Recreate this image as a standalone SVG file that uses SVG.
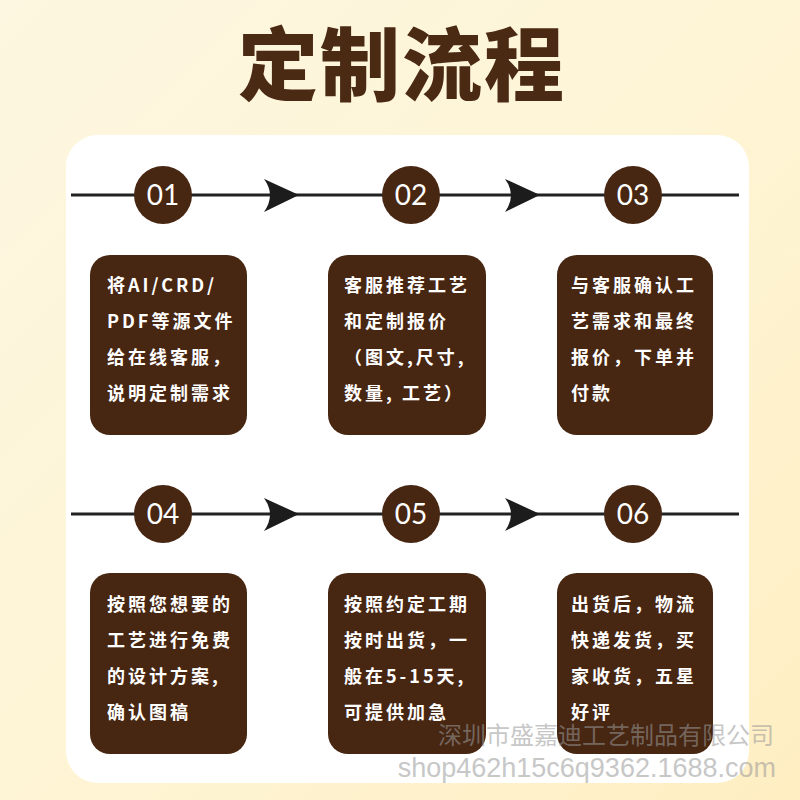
<svg xmlns="http://www.w3.org/2000/svg" width="800" height="800" viewBox="0 0 800 800">
<defs>
<linearGradient id="bg" x1="0" y1="0" x2="1" y2="1">
<stop offset="0" stop-color="#fdf6e0"/>
<stop offset="0.5" stop-color="#fef5d6"/>
<stop offset="1" stop-color="#ffeec2"/>
</linearGradient>
<style>
.box{fill:#472612;}
.num{fill:#472612;}
.numt{font-family:"Lato","Open Sans",sans-serif;font-size:28px;fill:#ffffff;text-anchor:middle;}
.t{font-family:"Noto Sans CJK SC",sans-serif;font-size:18px;font-weight:700;fill:#ffffff;letter-spacing:3px;}
.line{stroke:#222222;stroke-width:3;fill:none;}
.arr{fill:#1c1c1c;}
.title{font-family:"Noto Sans CJK SC",serif;font-size:80px;font-weight:900;fill:#4b2a14;text-anchor:middle;letter-spacing:2px;}
.wm{font-family:"Liberation Sans","Noto Sans CJK SC",sans-serif;fill:#9a9a9a;opacity:0.55;text-anchor:end;}
</style>
</defs>
<rect width="800" height="800" fill="url(#bg)"/>
<text class="title" x="402" y="94">定制流程</text>
<rect x="66" y="135" width="683" height="648" rx="32" fill="#ffffff"/>

<g id="connectors">
<line class="line" x1="71" y1="195" x2="739" y2="195"/>
<line class="line" x1="71" y1="514" x2="739" y2="514"/>
<path class="arr" d="M264,179 L299,195 L264,212 Q276,195 264,179 Z"/>
<path class="arr" d="M505,179 L540,195 L505,212 Q517,195 505,179 Z"/>
<path class="arr" d="M264,498 L299,514 L264,531 Q276,514 264,498 Z"/>
<path class="arr" d="M505,498 L540,514 L505,531 Q517,514 505,498 Z"/>
</g>

<g id="step01">
<circle class="num" cx="163" cy="195" r="29"/>
<text class="numt" x="163" y="205">01</text>
<rect class="box" x="90" y="255" width="157" height="180" rx="20"/>
<text class="t" x="107" y="292">将AI/CRD/</text>
<text class="t" x="107" y="328">PDF等源文件</text>
<text class="t" x="107" y="364">给在线客服，</text>
<text class="t" x="107" y="400">说明定制需求</text>
</g>
<g id="step02">
<circle class="num" cx="411" cy="195" r="29"/>
<text class="numt" x="411" y="205">02</text>
<rect class="box" x="328" y="255" width="158" height="180" rx="20"/>
<text class="t" x="344" y="292">客服推荐工艺</text>
<text class="t" x="344" y="328">和定制报价</text>
<text class="t" x="344" y="364">（图文,尺寸,</text>
<text class="t" x="344" y="400">数量, 工艺）</text>
</g>
<g id="step03">
<circle class="num" cx="633" cy="195" r="29"/>
<text class="numt" x="633" y="205">03</text>
<rect class="box" x="557" y="255" width="156" height="180" rx="20"/>
<text class="t" x="571" y="292">与客服确认工</text>
<text class="t" x="571" y="328">艺需求和最终</text>
<text class="t" x="571" y="364">报价，下单并</text>
<text class="t" x="571" y="400">付款</text>
</g>
<g id="step04">
<circle class="num" cx="163" cy="514" r="29"/>
<text class="numt" x="163" y="524">04</text>
<rect class="box" x="90" y="573" width="157" height="181" rx="20"/>
<text class="t" x="107" y="611">按照您想要的</text>
<text class="t" x="107" y="647">工艺进行免费</text>
<text class="t" x="107" y="683">的设计方案,</text>
<text class="t" x="107" y="719">确认图稿</text>
</g>
<g id="step05">
<circle class="num" cx="411" cy="514" r="29"/>
<text class="numt" x="411" y="524">05</text>
<rect class="box" x="328" y="573" width="158" height="181" rx="20"/>
<text class="t" x="344" y="611">按照约定工期</text>
<text class="t" x="344" y="647">按时出货，一</text>
<text class="t" x="344" y="683">般在5-15天,</text>
<text class="t" x="344" y="719">可提供加急</text>
</g>
<g id="step06">
<circle class="num" cx="633" cy="514" r="29"/>
<text class="numt" x="633" y="524">06</text>
<rect class="box" x="557" y="573" width="156" height="181" rx="20"/>
<text class="t" x="571" y="611">出货后，物流</text>
<text class="t" x="571" y="647">快递发货，买</text>
<text class="t" x="571" y="683">家收货，五星</text>
<text class="t" x="571" y="719">好评</text>
</g>

<text class="wm" x="774" y="744" font-size="24">深圳市盛嘉迪工艺制品有限公司</text>
<text class="wm" x="776" y="777" font-size="27">shop462h15c6q9362.1688.com</text>
</svg>
